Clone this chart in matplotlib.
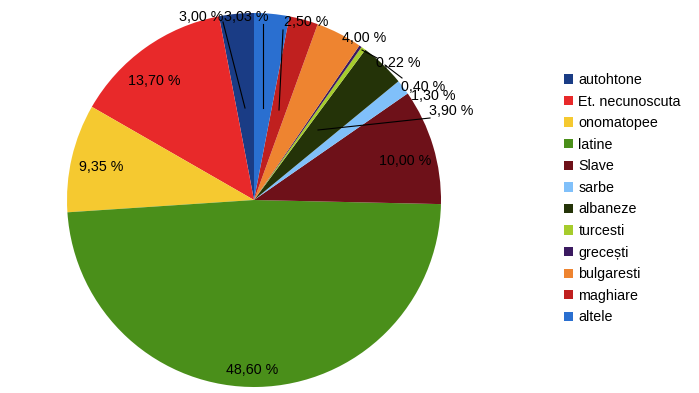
import matplotlib
matplotlib.use("Agg")
import matplotlib.pyplot as plt

categories = ["autohtone", "Et. necunoscuta", "onomatopee", "latine", "Slave", "sarbe",
              "albaneze", "turcesti", "grecești", "bulgaresti", "maghiare", "altele"]
values = [3.00, 13.70, 9.35, 48.60, 10.00, 1.30, 3.90, 0.40, 0.22, 4.00, 2.50, 3.03]
value_labels = ["3,00 %", "13,70 %", "9,35 %", "48,60 %", "10,00 %", "1,30 %",
                "3,90 %", "0,40 %", "0,22 %", "4,00 %", "2,50 %", "3,03 %"]
colors = ["#1a3c85", "#e8292a", "#f5c930", "#4a8f1a", "#6e1119", "#80c0fa",
          "#243308", "#a6cc2c", "#3b1a60", "#ee8430", "#c0201f", "#2a6fd0"]

H = 393
# label text centres (pixel coords) and optional leader lines
label_pos = [(201, 17), (154, 81), (101, 167), (252, 370), (405, 161), (433, 96),
             (451, 111), (423, 87), (398, 63), (364, 38), (306, 22), (246, 17)]
leaders = {0: ((223, 22), (245, 108)), 11: ((263, 24), (263, 108)),
           10: ((283, 30), (279, 110)), 8: ((377, 58), (362, 50)),
           7: ((402, 78), (385, 65)), 6: ((430, 118), (318, 130))}

plt.rcParams['font.family'] = ['Liberation Sans', 'DejaVu Sans']
fig = plt.figure(figsize=(6.99, 3.93), dpi=100)
ax = fig.add_axes([0, 0, 1, 1])

wedges, _ = ax.pie(values, colors=colors, startangle=90, counterclock=True,
                   center=(254, H - 200), radius=187, frame=True)
ax.set_xlim(0, 699)
ax.set_ylim(0, H)
ax.axis('off')

for i, (lab, (px, py)) in enumerate(zip(value_labels, label_pos)):
    ax.text(px, H - py, lab, ha='center', va='center', fontsize=10.3, color='black')
for i, ((x1, y1), (x2, y2)) in leaders.items():
    ax.plot([x1, x2], [H - y1, H - y2], color='black', lw=0.8)

leg = ax.legend(wedges, categories, loc='upper left', bbox_to_anchor=(564 / 699, 1 - 73 / H),
                bbox_transform=fig.transFigure, frameon=False, fontsize=10.3,
                handlelength=0.63, handleheight=0.63, handletextpad=0.38,
                labelspacing=0.53, borderpad=0, borderaxespad=0)
fig.savefig("out.png", dpi=100)
